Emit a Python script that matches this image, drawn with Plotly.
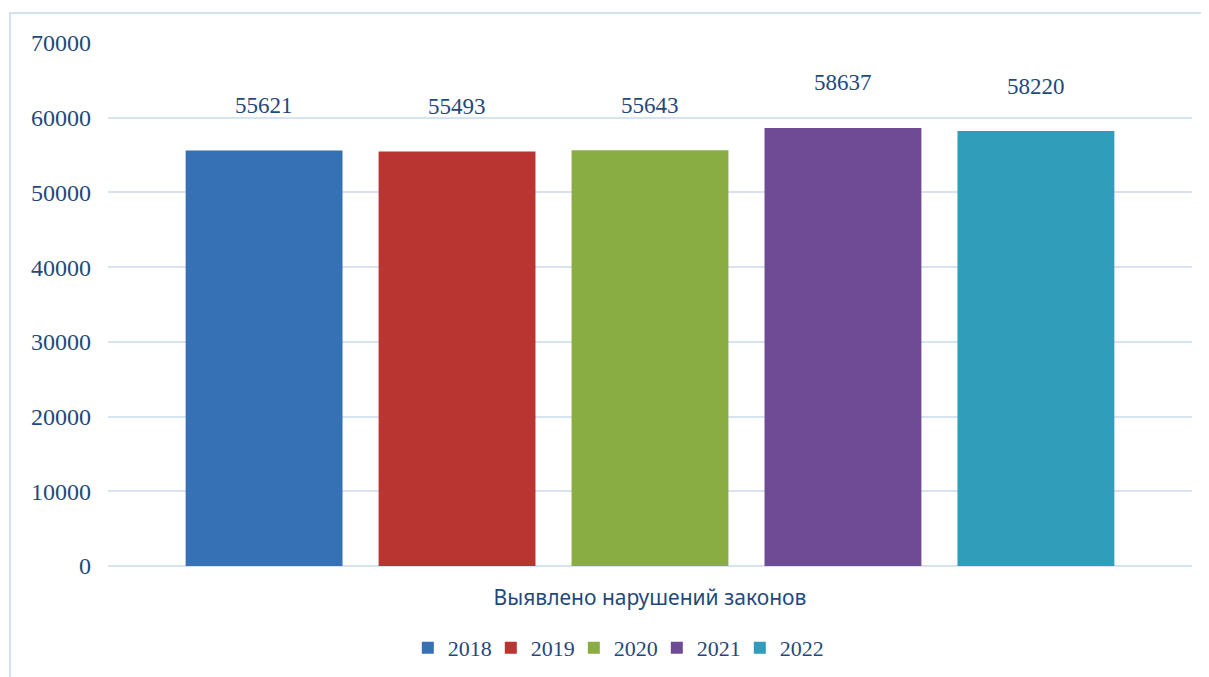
import plotly.graph_objects as go

category = "Выявлено нарушений законов"
years = ["2018", "2019", "2020", "2021", "2022"]
values = [55621, 55493, 55643, 58637, 58220]
colors = ["#3670B5", "#B83532", "#8AAD43", "#6E4B94", "#309DBA"]

text_color = "#1F497D"
serif = "Liberation Serif, Times New Roman, serif"

fig = go.Figure()
for yr, v, c in zip(years, values, colors):
    fig.add_trace(go.Bar(
        name=yr, x=[category], y=[v],
        marker=dict(color=c, line=dict(width=0)),
    ))

n = len(years)
for i, (yr, v) in enumerate(zip(years, values)):
    fig.add_annotation(
        x=category, y=v, text=str(v), showarrow=False,
        xref="x", yref="y",
        xshift=(i - (n - 1) / 2) * 193,
        yshift=45, yanchor="middle",
        font=dict(family=serif, size=23, color=text_color),
    )

# outer chart frame
fig.add_shape(type="rect", xref="paper", yref="paper",
              x0=-0.0904, x1=1.03, y0=-0.25, y1=1.0574,
              line=dict(color="#D3E0F1", width=2), layer="below")

fig.update_layout(
    width=1201, height=669,
    margin=dict(l=100, r=17, t=35, b=111, autoexpand=False),
    paper_bgcolor="white", plot_bgcolor="white",
    barmode="group", bargap=0.11, bargroupgap=0.187,
    showlegend=True,
    legend=dict(orientation="h", x=0.468, xanchor="center",
                yref="container", y=0.0433, yanchor="middle",
                bgcolor="rgba(0,0,0,0)",
                font=dict(family=serif, size=22, color=text_color),
                entrywidth=38, entrywidthmode="pixels", traceorder="normal"),
    xaxis=dict(showgrid=False, showline=False, ticks="",
               tickfont=dict(family="Noto Sans, sans-serif", size=21, color=text_color),
               ticklabelstandoff=17),
    yaxis=dict(range=[0, 70000], dtick=10000, showgrid=True,
               gridcolor="#D6E3F3", gridwidth=2, zeroline=True,
               zerolinecolor="#D6E3F3", zerolinewidth=2,
               tickformat="d", ticks="",
               tickfont=dict(family=serif, size=24, color=text_color),
               ticklabelstandoff=16),
)

fig.write_html("out.html")
